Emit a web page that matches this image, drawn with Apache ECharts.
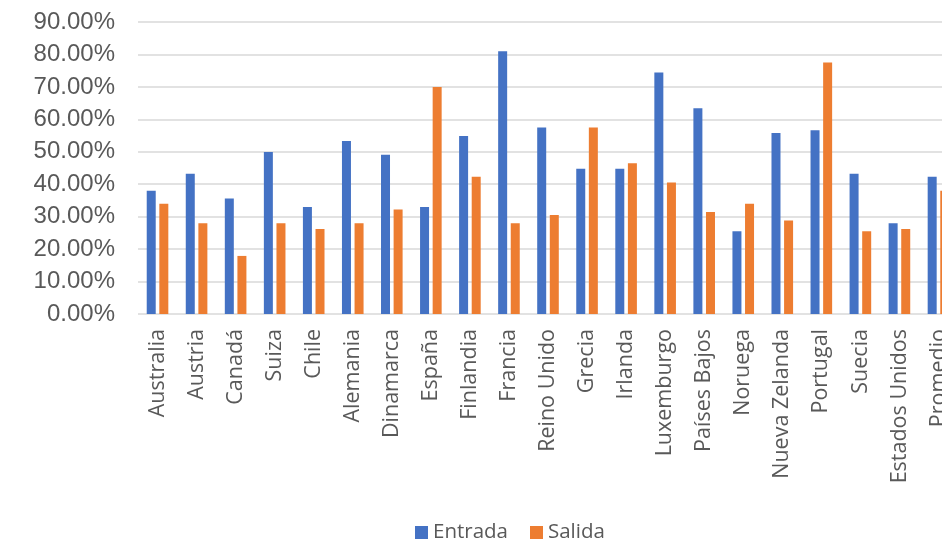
<!DOCTYPE html>
<html>
<head>
<meta charset="utf-8">
<script src="https://cdn.jsdelivr.net/npm/echarts@6/dist/echarts.min.js"></script>
<style>html,body{margin:0;padding:0;background:#fff;overflow:hidden}#c{width:942px;height:540px}</style>
</head>
<body>
<div id="c"></div>
<script>
const categories = ["Australia","Austria","Canadá","Suiza","Chile","Alemania","Dinamarca","España","Finlandia","Francia","Reino Unido","Grecia","Irlanda","Luxemburgo","Países Bajos","Noruega","Nueva Zelanda","Portugal","Suecia","Estados Unidos","Promedio"];
const entrada = [38.0,43.2,35.6,49.9,33.0,53.3,49.1,33.0,54.9,81.0,57.5,44.8,44.8,74.4,63.4,25.5,55.8,56.6,43.2,28.0,42.3];
const salida  = [34.0,28.0,17.9,28.0,26.2,28.0,32.2,70.0,42.3,28.0,30.5,57.5,46.5,40.5,31.4,34.0,28.8,77.5,25.5,26.2,38.0];
const yTicks = [0,10,20,30,40,50,60,70,80,90];

const chart = echarts.init(document.getElementById('c'), null, {renderer:'canvas'});
chart.setOption({
  animation:false,
  backgroundColor:'#ffffff',
  grid:{left:138,width:820,top:22,height:292,containLabel:false,outerBoundsMode:'none'},
  legend:{
    data:['Entrada','Salida'],
    left:410, top:517,
    icon:'rect', itemWidth:13, itemHeight:13, itemGap:22,
    textStyle:{fontFamily:'Open Sans', fontSize:20.5, color:'#595959'}
  },
  xAxis:{
    type:'category', data:categories,
    axisLine:{show:false}, axisTick:{show:false},
    axisLabel:{rotate:90, interval:0, margin:15, fontFamily:'Open Sans', fontSize:21.5, color:'#595959'}
  },
  yAxis:{
    type:'value', min:yTicks[0], max:yTicks[yTicks.length-1], interval:10,
    axisLine:{show:false}, axisTick:{show:false},
    splitLine:{lineStyle:{color:'#d9d9d9', width:1.5}},
    axisLabel:{margin:23, fontFamily:'Liberation Sans', fontSize:24, color:'#595959',
      formatter:v=>v.toFixed(2)+'%'}
  },
  series:[
    {name:'Entrada', type:'bar', data:entrada, barWidth:9, barGap:'40%', itemStyle:{color:'#4472c4'}},
    {name:'Salida', type:'bar', data:salida, barWidth:9, itemStyle:{color:'#ed7d31'}}
  ]
});
</script>
</body>
</html>
